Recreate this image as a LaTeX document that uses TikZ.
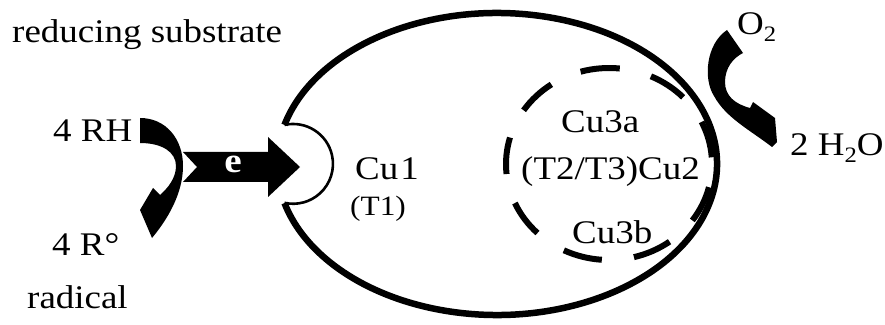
\documentclass[tikz,border=0pt]{standalone}
\usepackage{fontspec}
\setmainfont{Liberation Serif}[FakeStretch=1.12]
\newcommand\subtwo{\raisebox{-7pt}{\fontsize{22}{24}\selectfont 2}}
\begin{document}
\begin{tikzpicture}[x=1pt,y=1pt,
  lbl/.style={inner sep=0pt, anchor=base west, font=\fontsize{33}{36}\selectfont},
  small/.style={lbl, font=\fontsize{28}{32}\selectfont},
  shell/.style={line width=6.5pt},
  notchline/.style={line width=2.6pt},
  dashring/.style={line width=6pt},
  blk/.style={fill=black}]
\useasboundingbox (0,0) rectangle (885,324);
\coordinate (oc) at (497,160);
\coordinate (dc) at (609,160);
\coordinate (ntop) at ([shift={(165:220 and 151)}]oc);
% outer enzyme outline
\draw[shell] (ntop) arc[start angle=165, end angle=-165, x radius=220, y radius=151];
% T1 pocket
\draw[notchline] (ntop) arc[start angle=102.4, end angle=-102.4, radius=39.9];
% trinuclear cluster (dashed)
\foreach \a in {4,44,...,324}
  \draw[dashring] ([shift={(\a:103 and 96)}]dc) arc[start angle=\a, end angle=\a+22, x radius=103, y radius=96];
% left curved arrow
\fill[blk] (140,206) .. controls (166,206) and (183,185) .. (183,158)
  .. controls (183,130) and (167,104) .. (152,86) -- (140,114) -- (153,136) -- (160,129)
  .. controls (168,136) and (176,146) .. (176,158)
  .. controls (176,172) and (162,181) .. (140,181) -- cycle;
% electron arrow
\fill[blk] (183,172) -- (268,172) -- (268,187) -- (300,157) -- (268,127) -- (268,142) -- (183,142) -- (197,157) -- cycle;
\node[inner sep=0pt, text=white, font=\fontsize{35}{36}\selectfont\bfseries] (e) at (233,160) {e};
% right curved arrow
\fill[blk] (727,294) .. controls (706,280) and (703,245) .. (714,228)
  .. controls (726,206) and (750,194) .. (772,177) -- (777,182) -- (775,206) -- (753,222) -- (750,216)
  .. controls (735,220) and (725,228) .. (725,242)
  .. controls (725,256) and (733,266) .. (743,271) -- cycle;
% labels
\node[lbl] (rs) at (12,281) {reducing substrate};
\node[lbl] (rh) at (53,182) {4 RH};
\node[lbl] (rr) at (52,69) {4 R°};
\node[lbl] (rad) at (27,16) {radical};
\node[lbl] (cu1) at (355,144) {Cu\kern2pt1};
\node[small] (t1) at (350,108) {(T1)};
\node[lbl] (cu3a) at (561,191) {Cu3a};
\node[lbl] (cu2) at (521,144) {(T2/T3)Cu2};
\node[lbl] (cu3b) at (572,81) {Cu3b};
\node[lbl] (o2) at (737,289) {O\subtwo};
\node[lbl] (h2o) at (790,168) {2 H\subtwo O};
\end{tikzpicture}
\end{document}
